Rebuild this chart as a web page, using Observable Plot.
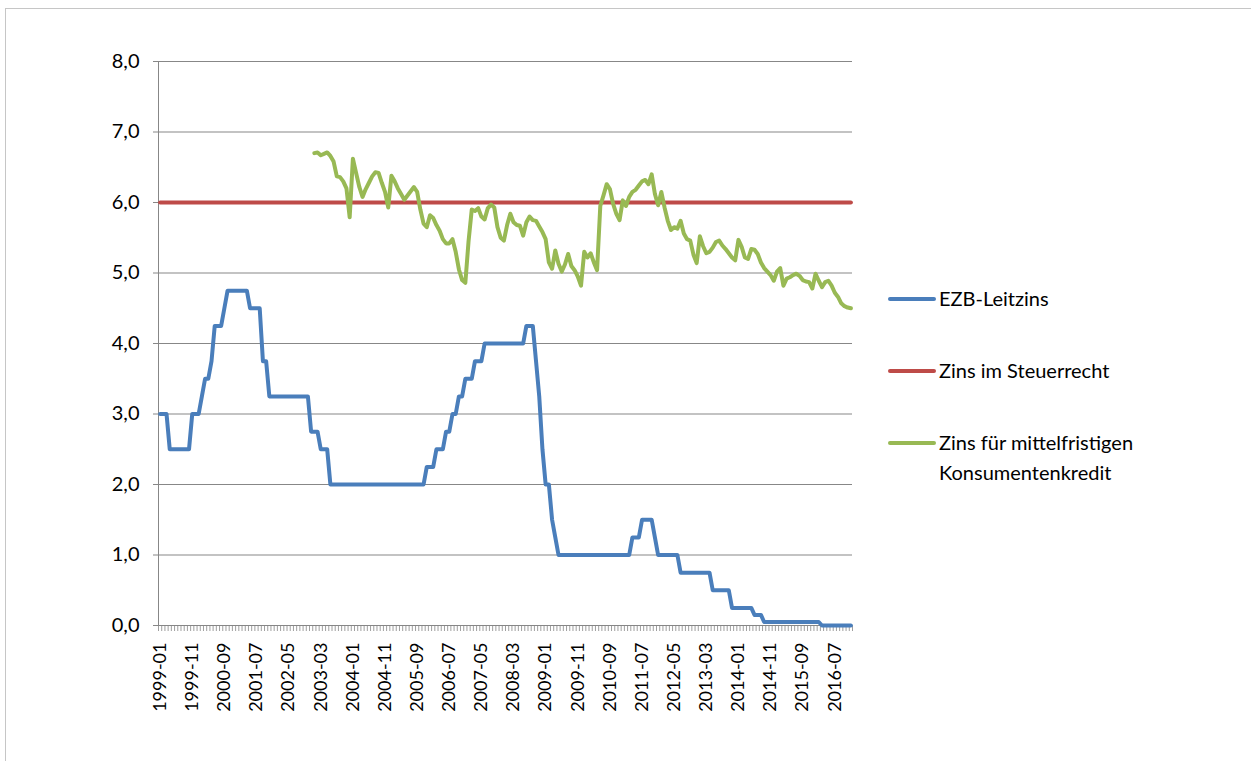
<!DOCTYPE html>
<html>
<head>
<meta charset="utf-8">
<script src="https://cdn.jsdelivr.net/npm/d3@7"></script>
<script src="https://cdn.jsdelivr.net/npm/@observablehq/plot@0.6"></script>
<style>
  html, body { margin: 0; padding: 0; background: #fff; }
  body { width: 1251px; height: 761px; position: relative; overflow: hidden; font-family: Lato, "Liberation Sans", sans-serif; }
  #frame { position: absolute; left: 5px; top: 8px; width: 1300px; height: 800px; border: 1px solid #c6c6c6; box-sizing: border-box; }
  #chart { position: absolute; left: 0; top: 0; }
  #legend { position: absolute; left: 888px; top: 0; width: 360px; height: 761px; }
  .item { position: absolute; left: 0; display: flex; align-items: flex-start; font-size: 20px; color: #000; line-height: 30px; }
  .sw { width: 48px; height: 4px; border-radius: 2px; margin-top: 14px; margin-right: 3px; flex: none; }
</style>
</head>
<body>
<div id="frame"></div>
<div id="chart"></div>
<div id="legend"></div>
<script>
// ---- Data ----
const firstMonth = "1999-01";
const lastMonth = "2016-12";

const tickLabels = ["1999-01","1999-11","2000-09","2001-07","2002-05","2003-03","2004-01","2004-11",
  "2005-09","2006-07","2007-05","2008-03","2009-01","2009-11","2010-09","2011-07","2012-05",
  "2013-03","2014-01","2014-11","2015-09","2016-07"];

const yTicks = [0, 1, 2, 3, 4, 5, 6, 7, 8];

const seriesNames = ["EZB-Leitzins", "Zins im Steuerrecht", "Zins für mittelfristigen Konsumentenkredit"];
const seriesColors = ["#4A7EBB", "#BE4B48", "#98B954"];

// EZB-Leitzins, monthly 1999-01 .. 2016-12
const ezb = [
  3.00,3.00,3.00,2.50,2.50,2.50,2.50,2.50,2.50,2.50,3.00,3.00, // 1999
  3.00,3.25,3.50,3.50,3.75,4.25,4.25,4.25,4.50,4.75,4.75,4.75, // 2000
  4.75,4.75,4.75,4.75,4.50,4.50,4.50,4.50,3.75,3.75,3.25,3.25, // 2001
  3.25,3.25,3.25,3.25,3.25,3.25,3.25,3.25,3.25,3.25,3.25,2.75, // 2002
  2.75,2.75,2.50,2.50,2.50,2.00,2.00,2.00,2.00,2.00,2.00,2.00, // 2003
  2.00,2.00,2.00,2.00,2.00,2.00,2.00,2.00,2.00,2.00,2.00,2.00, // 2004
  2.00,2.00,2.00,2.00,2.00,2.00,2.00,2.00,2.00,2.00,2.00,2.25, // 2005
  2.25,2.25,2.50,2.50,2.50,2.75,2.75,3.00,3.00,3.25,3.25,3.50, // 2006
  3.50,3.50,3.75,3.75,3.75,4.00,4.00,4.00,4.00,4.00,4.00,4.00, // 2007
  4.00,4.00,4.00,4.00,4.00,4.00,4.25,4.25,4.25,3.75,3.25,2.50, // 2008
  2.00,2.00,1.50,1.25,1.00,1.00,1.00,1.00,1.00,1.00,1.00,1.00, // 2009
  1.00,1.00,1.00,1.00,1.00,1.00,1.00,1.00,1.00,1.00,1.00,1.00, // 2010
  1.00,1.00,1.00,1.25,1.25,1.25,1.50,1.50,1.50,1.50,1.25,1.00, // 2011
  1.00,1.00,1.00,1.00,1.00,1.00,0.75,0.75,0.75,0.75,0.75,0.75, // 2012
  0.75,0.75,0.75,0.75,0.50,0.50,0.50,0.50,0.50,0.50,0.25,0.25, // 2013
  0.25,0.25,0.25,0.25,0.25,0.15,0.15,0.15,0.05,0.05,0.05,0.05, // 2014
  0.05,0.05,0.05,0.05,0.05,0.05,0.05,0.05,0.05,0.05,0.05,0.05, // 2015
  0.05,0.05,0.00,0.00,0.00,0.00,0.00,0.00,0.00,0.00,0.00,0.00  // 2016
];

// Zins im Steuerrecht (constant over the whole period)
const steuerZins = 6.0;

// Zins für mittelfristigen Konsumentenkredit, monthly 2003-01 .. 2016-12
const konsumStart = "2003-01";
const konsum = [
  6.70,6.71,6.67,6.69,6.71,6.66,6.58,6.37,6.36,6.30,6.20,5.79, // 2003
  6.62,6.42,6.22,6.08,6.19,6.28,6.37,6.43,6.42,6.28,6.15,5.93, // 2004
  6.38,6.30,6.20,6.12,6.04,6.10,6.16,6.22,6.15,5.90,5.70,5.65, // 2005
  5.82,5.78,5.68,5.60,5.48,5.42,5.42,5.48,5.30,5.05,4.90,4.86, // 2006
  5.45,5.90,5.88,5.92,5.80,5.76,5.92,5.97,5.93,5.65,5.50,5.46, // 2007
  5.68,5.84,5.72,5.68,5.67,5.53,5.72,5.80,5.75,5.74,5.66,5.58, // 2008
  5.48,5.15,5.06,5.32,5.13,5.02,5.12,5.27,5.10,5.04,4.95,4.82, // 2009
  5.30,5.22,5.28,5.15,5.04,5.95,6.10,6.26,6.19,5.98,5.84,5.75, // 2010
  6.03,5.95,6.08,6.15,6.18,6.24,6.30,6.32,6.26,6.40,6.12,5.96, // 2011
  6.15,5.93,5.74,5.61,5.65,5.63,5.74,5.56,5.48,5.46,5.26,5.14, // 2012
  5.52,5.38,5.28,5.30,5.36,5.44,5.46,5.39,5.34,5.28,5.22,5.18, // 2013
  5.47,5.37,5.22,5.20,5.34,5.33,5.27,5.15,5.07,5.02,4.97,4.89, // 2014
  5.02,5.07,4.82,4.92,4.94,4.97,4.99,4.96,4.90,4.88,4.87,4.78, // 2015
  4.99,4.89,4.80,4.87,4.89,4.82,4.72,4.66,4.57,4.53,4.51,4.50  // 2016
];

// ---- Build tables ----
const fmt = d3.utcFormat("%Y-%m");
const parse = d3.utcParse("%Y-%m");
const months = d3.utcMonth.range(parse(firstMonth), d3.utcMonth.offset(parse(lastMonth), 1)).map(fmt);
const pos = m => months.indexOf(m) + 0.5;

const ezbRows = months.map((m, i) => ({month: m, x: pos(m), value: ezb[i]}));
const steuerRows = months.map(m => ({month: m, x: pos(m), value: steuerZins}));
const kStart = months.indexOf(konsumStart);
const konsumRows = konsum.map((v, j) => ({month: months[kStart + j], x: pos(months[kStart + j]), value: v}));

const gridColor = "#878787";

const chart = Plot.plot({
  width: 870,
  height: 725,
  marginLeft: 158,
  marginRight: 18,
  marginTop: 61,
  marginBottom: 100,
  style: {fontFamily: "Lato, 'Liberation Sans', sans-serif", background: "transparent", overflow: "visible", color: "#000"},
  x: {domain: [0, months.length], axis: null, label: null},
  y: {domain: [0, 8], axis: null, label: null},
  marks: [
    Plot.gridY(yTicks, {stroke: gridColor, strokeOpacity: 1, strokeWidth: 1}),
    Plot.axisY(yTicks, {label: null, tickSize: 5, tickPadding: 14, stroke: gridColor, fill: "#000", fontSize: 20,
      tickFormat: d => d.toFixed(1).replace(".", ",")}),
    Plot.ruleX([0], {stroke: gridColor}),
    Plot.axisX(d3.range(months.length + 1), {label: null, tickSize: 6, stroke: gridColor, strokeWidth: 0.8, tickFormat: () => ""}),
    Plot.axisX(tickLabels.map(pos), {label: null, tickSize: 0, tickPadding: 17, tickRotate: -90, fontSize: 18, fill: "#000",
      tickFormat: p => months[Math.floor(p)]}),
    Plot.line(ezbRows, {x: "x", y: "value", stroke: seriesColors[0], strokeWidth: 4, strokeLinejoin: "round", strokeLinecap: "round"}),
    Plot.line(steuerRows, {x: "x", y: "value", stroke: seriesColors[1], strokeWidth: 4}),
    Plot.line(konsumRows, {x: "x", y: "value", stroke: seriesColors[2], strokeWidth: 4, strokeLinejoin: "round", strokeLinecap: "round"})
  ]
});
document.getElementById("chart").appendChild(chart);

// ---- Legend ----
const legendTops = [283, 355, 427];
const legend = document.getElementById("legend");
seriesNames.forEach((name, k) => {
  const item = document.createElement("div");
  item.className = "item";
  item.style.top = legendTops[k] + "px";
  const sw = document.createElement("div");
  sw.className = "sw";
  sw.style.background = seriesColors[k];
  const label = document.createElement("div");
  label.style.width = "240px";
  label.textContent = name;
  item.appendChild(sw);
  item.appendChild(label);
  legend.appendChild(item);
});
</script>
</body>
</html>
